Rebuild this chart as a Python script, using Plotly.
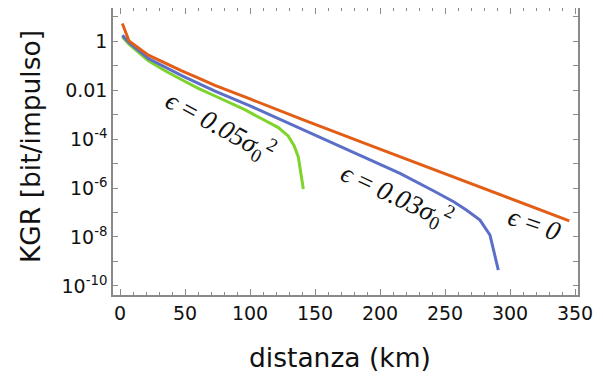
import plotly.graph_objects as go

# distanza (km) and log10(KGR)
km_eps0 = [1.8, 6.9, 21.8, 34.6, 47.5, 60, 73, 100, 142, 200, 250, 300, 345.6]
log_eps0 = [0.72, 0.01, -0.57, -0.895, -1.21, -1.50, -1.81, -2.36, -3.24, -4.41, -5.42, -6.43, -7.34]

km_eps003 = [1.8, 6.9, 21.8, 34.6, 47.5, 60.2, 73.1, 100, 142.3, 180, 215.4, 241, 257, 266.7, 276.9,
             284.6, 291]
log_eps003 = [0.244, -0.057, -0.71, -1.07, -1.41, -1.72, -2.04, -2.64, -3.65, -4.55, -5.40, -6.11,
              -6.57, -6.91, -7.31, -7.92, -9.35]

km_eps005 = [1.8, 6.9, 21.8, 34.6, 47.5, 60.2, 73.1, 83.3, 96, 109, 121.8, 129.5, 134, 137.2, 141]
log_eps005 = [0.175, -0.12, -0.80, -1.21, -1.575, -1.93, -2.24, -2.48, -2.80, -3.17, -3.53, -3.88,
              -4.28, -4.74, -6.04]

y_tickvals = [1, 1e-2, 1e-4, 1e-6, 1e-8, 1e-10]
y_ticktext = ["1", "0.01", "10<sup>-4</sup>", "10<sup>-6</sup>", "10<sup>-8</sup>", "10<sup>-10</sup>"]
y_minor_tickvals = [10, 1e-1, 1e-3, 1e-5, 1e-7, 1e-9]
x_tickvals = [0, 50, 100, 150, 200, 250, 300, 350]

ORANGE = "#E25E16"
BLUE = "#5C6FC8"
GREEN = "#7ED42A"

fig = go.Figure()
for km, lg, col in [(km_eps005, log_eps005, GREEN), (km_eps003, log_eps003, BLUE), (km_eps0, log_eps0, ORANGE)]:
    fig.add_trace(go.Scatter(x=km, y=[10 ** v for v in lg], mode="lines",
                             line=dict(color=col, width=3), showlegend=False, hoverinfo="skip"))

lab_font = dict(family="Liberation Serif, DejaVu Serif, serif", size=27, color="#111")
# annotation positions on a log axis are given as log10 values
labels = [
    ("<i>ϵ</i> = <i>0.05σ</i><sub>0</sub><sup>2</sup>", 77, -3.45, 28.5),
    ("<i>ϵ</i> = <i>0.03σ</i><sub>0</sub><sup>2</sup>", 213, -6.34, 25),
    ("<i>ϵ</i> = <i>0</i>", 319, -7.45, 19),
]
for txt, x, y, ang in labels:
    fig.add_annotation(x=x, y=y, text=txt, showarrow=False, textangle=ang, font=lab_font)

title_font = dict(family="DejaVu Sans", size=26.5, color="#111")
fig.add_annotation(xref="paper", yref="paper", x=-0.1785, y=0.519, text="KGR [bit/impulso]",
                   textangle=-90, showarrow=False, font=title_font, xanchor="center", yanchor="middle")
fig.add_annotation(xref="paper", yref="paper", x=0.488, y=-0.2195, text="distanza (km)",
                   showarrow=False, font=title_font, xanchor="center", yanchor="middle")

axis_common = dict(showline=True, linecolor="#8a8a8a", linewidth=1.5, mirror="allticks",
                   ticks="inside", tickcolor="#8a8a8a", showgrid=False, zeroline=False, automargin=False,
                   tickfont=dict(family="DejaVu Sans", size=19, color="#111"))

fig.update_xaxes(range=[-5.4, 352.3], tickvals=x_tickvals, ticklen=6,
                 minor=dict(dtick=10, ticks="inside", ticklen=3, tickcolor="#8a8a8a", showgrid=False),
                 **axis_common)
fig.update_yaxes(type="log", range=[-10.37, 1.355], tickvals=y_tickvals, ticktext=y_ticktext,
                 ticklen=5,
                 minor=dict(tickmode="array", tickvals=y_minor_tickvals, ticks="inside", ticklen=5,
                            tickcolor="#8a8a8a", showgrid=False),
                 **axis_common)

# the page adds an 8px body margin, so the figure is sized/offset to compensate
fig.update_layout(width=595, height=368, margin=dict(l=105, r=25, t=0, b=81),
                  plot_bgcolor="white", paper_bgcolor="white")
fig.write_html("out.html")
